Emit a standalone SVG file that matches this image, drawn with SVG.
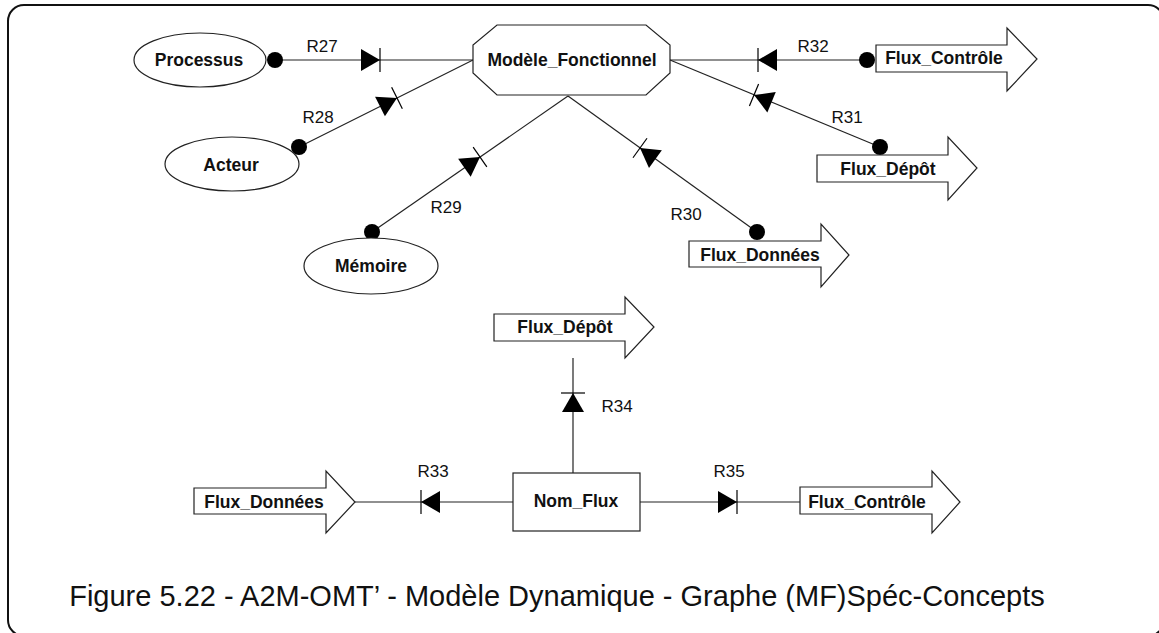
<svg xmlns="http://www.w3.org/2000/svg" xmlns:xlink="http://www.w3.org/1999/xlink" width="1159" height="633" viewBox="0 0 1159 633">
<style>
.frame{fill:none;stroke:#111;stroke-width:2}
.shape{fill:#fff;stroke:#222;stroke-width:1.2}
.line{fill:none;stroke:#222;stroke-width:1.2}
.dot{fill:#000}
.nt{font-family:"Liberation Sans",Arial,sans-serif;font-weight:bold;font-size:17.5px;fill:#111;text-anchor:middle}
.lbl{font-family:"Liberation Sans",Arial,sans-serif;font-size:17px;fill:#111;text-anchor:middle}
.cap{font-family:"Liberation Sans",Arial,sans-serif;font-size:29px;fill:#111;text-anchor:middle}
</style>
<defs>
<g id="diode">
<polygon points="0,0 -19,-11 -19,11" fill="#000"/>
<line x1="0" y1="-12" x2="0" y2="12" stroke="#000" stroke-width="1.2"/>
</g>
</defs>
<rect class="frame" x="8" y="5" width="1156" height="631" rx="16" ry="16"/>

<g id="connectors">
<line class="line" x1="275" y1="60" x2="473" y2="60"/>
<line class="line" x1="299" y1="147" x2="473" y2="60"/>
<line class="line" x1="372" y1="232" x2="568" y2="96"/>
<line class="line" x1="757" y1="232" x2="568" y2="96"/>
<line class="line" x1="880" y1="147" x2="670" y2="60"/>
<line class="line" x1="867" y1="60" x2="670" y2="60"/>
<line class="line" x1="573" y1="473" x2="573" y2="358"/>
<line class="line" x1="513" y1="502" x2="355" y2="502"/>
<line class="line" x1="640" y1="502" x2="800" y2="502"/>
<circle class="dot" cx="275" cy="60" r="8"/>
<circle class="dot" cx="299" cy="147" r="8"/>
<circle class="dot" cx="372" cy="232" r="8"/>
<circle class="dot" cx="757" cy="232" r="8"/>
<circle class="dot" cx="880" cy="147" r="8"/>
<circle class="dot" cx="867" cy="60" r="8"/>
<use xlink:href="#diode" transform="translate(380,60)"/>
<use xlink:href="#diode" transform="translate(397,98) rotate(-26.57)"/>
<use xlink:href="#diode" transform="translate(480,157) rotate(-34.76)"/>
<use xlink:href="#diode" transform="translate(640,148) rotate(-144.26)"/>
<use xlink:href="#diode" transform="translate(754,95) rotate(-157.5)"/>
<use xlink:href="#diode" transform="translate(758,60) rotate(180)"/>
<use xlink:href="#diode" transform="translate(573,393) rotate(-90)"/>
<use xlink:href="#diode" transform="translate(421,502) rotate(180)"/>
<use xlink:href="#diode" transform="translate(737,502)"/>
<text class="lbl" x="322" y="52">R27</text>
<text class="lbl" x="318" y="123">R28</text>
<text class="lbl" x="446" y="213">R29</text>
<text class="lbl" x="686" y="220">R30</text>
<text class="lbl" x="847" y="123">R31</text>
<text class="lbl" x="813" y="52">R32</text>
<text class="lbl" x="433" y="477">R33</text>
<text class="lbl" x="617" y="412">R34</text>
<text class="lbl" x="729" y="477">R35</text>
</g>

<g id="processus">
<ellipse class="shape" cx="200" cy="60" rx="66" ry="27"/>
<text class="nt" x="199" y="66">Processus</text>
</g>
<g id="acteur">
<ellipse class="shape" cx="232" cy="164" rx="67" ry="27"/>
<text class="nt" x="231" y="171">Acteur</text>
</g>
<g id="memoire">
<ellipse class="shape" cx="371" cy="266" rx="67" ry="28"/>
<text class="nt" x="371" y="272">Mémoire</text>
</g>
<g id="modele-fonctionnel">
<polygon class="shape" points="497,25 646,25 670,45 670,73 646,95 497,95 473,73 473,45"/>
<text class="nt" x="572" y="66">Modèle_Fonctionnel</text>
</g>
<g id="flux-controle-top">
<polygon class="shape" points="876,45 1007,45 1007,28 1037,59 1007,91 1007,72 876,72"/>
<text class="nt" x="944" y="64">Flux_Contrôle</text>
</g>
<g id="flux-depot-top">
<polygon class="shape" points="817,155 948,155 948,137 977,168 948,200 948,182 817,182"/>
<text class="nt" x="888" y="175">Flux_Dépôt</text>
</g>
<g id="flux-donnees-top">
<polygon class="shape" points="689,241 821,241 821,224 849,255 821,287 821,267 689,267"/>
<text class="nt" x="760" y="261">Flux_Données</text>
</g>
<g id="flux-depot-bottom">
<polygon class="shape" points="494,314 625,314 625,297 654,327 625,358 625,341 494,341"/>
<text class="nt" x="565" y="333">Flux_Dépôt</text>
</g>
<g id="nom-flux">
<rect class="shape" x="513" y="473" width="127" height="58"/>
<text class="nt" x="576" y="507">Nom_Flux</text>
</g>
<g id="flux-donnees-bottom">
<polygon class="shape" points="194,488 326,488 326,471 355,502 326,533 326,514 194,514"/>
<text class="nt" x="264" y="508">Flux_Données</text>
</g>
<g id="flux-controle-bottom">
<polygon class="shape" points="800,487 932,487 932,471 960,502 932,533 932,514 800,514"/>
<text class="nt" x="867" y="508">Flux_Contrôle</text>
</g>
<text class="cap" x="557" y="606">Figure 5.22 - A2M-OMT’ - Modèle Dynamique - Graphe (MF)Spéc-Concepts</text>
</svg>
